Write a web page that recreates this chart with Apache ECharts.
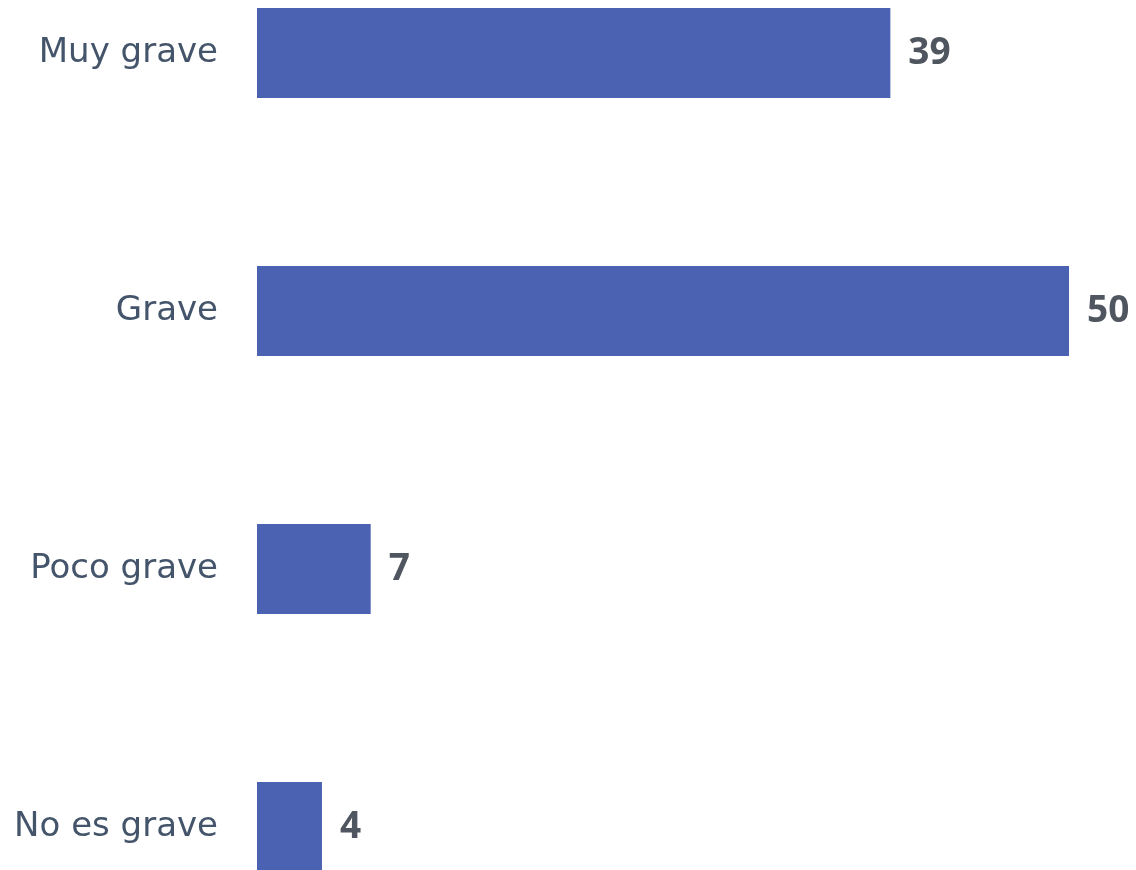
<!DOCTYPE html>
<html><head><meta charset="utf-8">
<script src="https://cdn.jsdelivr.net/npm/echarts@6/dist/echarts.min.js"></script>
<style>html,body{margin:0;padding:0;background:#fff}#c{width:1136px;height:870px}</style>
</head><body><div id="c"></div>
<script>
const categories = ["Muy grave", "Grave", "Poco grave", "No es grave"];
const values = [39, 50, 7, 4];

const chart = echarts.init(document.getElementById('c'));
chart.setOption({
  animation: false,
  grid: { left: 257, right: 67, top: 53, bottom: 43, containLabel: false },
  xAxis: { type: 'value', min: 0, max: 50, show: false },
  yAxis: {
    type: 'category', data: categories, inverse: true, boundaryGap: false,
    axisLine: { show: false }, axisTick: { show: false }, splitLine: { show: false },
    axisLabel: { margin: 39, fontSize: 34, color: '#44546A', fontFamily: 'DejaVu Sans' }
  },
  series: [{
    type: 'bar', data: values, barWidth: 90, clip: false,
    itemStyle: { color: '#4B62B2' },
    label: { show: true, position: 'right', distance: 18, fontSize: 37, fontWeight: 'bold', color: '#505660', fontFamily: 'Open Sans' }
  }]
});
</script></body></html>
